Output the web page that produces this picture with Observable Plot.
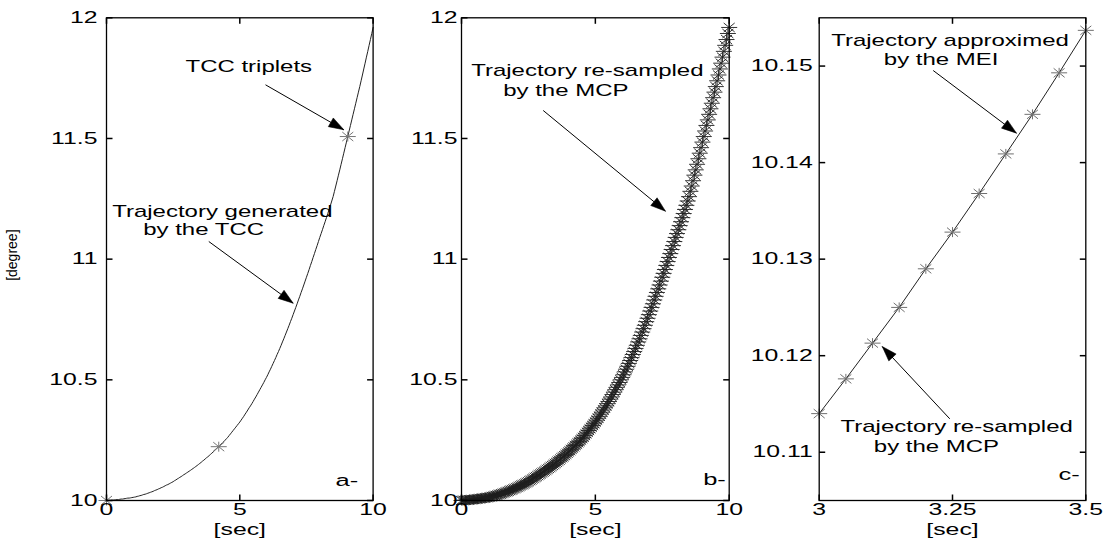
<!DOCTYPE html>
<html><head><meta charset="utf-8">
<script src="https://cdn.jsdelivr.net/npm/d3@7"></script>
<script src="https://cdn.jsdelivr.net/npm/@observablehq/plot@0.6"></script>
<style>
body{margin:0;background:#fff;}
#wrap{position:relative;width:1107px;height:548px;overflow:hidden;background:#fff;}
#wrap svg{position:absolute;top:0;overflow:visible;}
</style></head><body><div id="wrap"></div>
<script>
// ---- data ----
// trajectory (TCC-generated) and its MCP re-samples, every 0.05 s from 0 to 10 s  [degree]
const sampleStep = 0.05;
const trajValues = [
10.000,10.000,10.001,10.001,10.002,10.002,10.003,10.003,10.004,10.004,
10.005,10.006,10.006,10.007,10.008,10.009,10.010,10.010,10.011,10.012,
10.013,10.014,10.015,10.017,10.018,10.020,10.021,10.023,10.025,10.026,
10.028,10.030,10.032,10.034,10.036,10.038,10.041,10.043,10.045,10.048,
10.050,10.053,10.055,10.058,10.061,10.064,10.066,10.069,10.072,10.075,
10.078,10.082,10.085,10.089,10.092,10.096,10.099,10.103,10.107,10.110,
10.114,10.1176,10.1213,10.1250,10.1290,10.1328,10.1368,10.1409,10.1450,10.1493,
10.1537,10.158,10.163,10.167,10.172,10.177,10.181,10.186,10.191,10.196,
10.201,10.206,10.212,10.217,10.222,10.228,10.233,10.239,10.244,10.250,
10.256,10.262,10.269,10.276,10.283,10.290,10.297,10.304,10.311,10.318,
10.325,10.333,10.341,10.349,10.358,10.366,10.375,10.384,10.392,10.401,
10.410,10.420,10.429,10.439,10.449,10.459,10.469,10.479,10.489,10.500,
10.510,10.521,10.533,10.544,10.556,10.568,10.580,10.592,10.605,10.617,
10.630,10.643,10.657,10.670,10.684,10.698,10.712,10.726,10.741,10.755,
10.770,10.785,10.800,10.815,10.831,10.846,10.862,10.877,10.893,10.909,
10.925,10.941,10.957,10.974,10.990,11.007,11.023,11.040,11.056,11.073,
11.090,11.106,11.122,11.139,11.155,11.172,11.189,11.206,11.223,11.241,
11.259,11.281,11.303,11.325,11.348,11.370,11.393,11.416,11.439,11.462,
11.485,11.508,11.531,11.554,11.577,11.600,11.623,11.646,11.669,11.692,
11.715,11.739,11.763,11.788,11.812,11.837,11.861,11.886,11.910,11.935,
11.960];
const trajTimes = trajValues.map((_, i) => +(i * sampleStep).toFixed(2));

// TCC triplets
const tccTimes = [0, 4.21, 9.05];
const tccValues = [10.000, 10.223, 11.508];

// MEI approximation (zoom 3 .. 3.5 s)
const meiTimes = [3.00, 3.05, 3.10, 3.15, 3.20, 3.25, 3.30, 3.35, 3.40, 3.45, 3.50];
const meiValues = [10.1140, 10.1176, 10.1213, 10.1250, 10.1290, 10.1328, 10.1368, 10.1409, 10.1450, 10.1493, 10.1537];

// ticks
const xTicksAB = [0, 5, 10];
const xTickLabelsAB = ["0", "5", "10"];
const yTicksAB = [10, 10.5, 11, 11.5, 12];
const yTickLabelsAB = ["10", "10.5", "11", "11.5", "12"];
const xTicksC = [3, 3.25, 3.5];
const xTickLabelsC = ["3", "3.25", "3.5"];
const yTicksC = [10.11, 10.12, 10.13, 10.14, 10.15];
const yTickLabelsC = ["10.11", "10.12", "10.13", "10.14", "10.15"];

// ---- drawing ----
const FONT = "'Liberation Sans', Arial, Helvetica, sans-serif";
const H = 548, MT = 17.3, MB = 48;
const wrap = document.getElementById("wrap");
const STRETCH = {ticklabel: 1.55, annot: 1.5, panelletter: 1.5};

const star = {draw(c) {
  c.moveTo(-8, 0); c.lineTo(8, 0);
  c.moveTo(0, -5); c.lineTo(0, 5);
  c.moveTo(-5.5, -4.5); c.lineTo(5.5, 4.5);
  c.moveTo(-5.5, 4.5); c.lineTo(5.5, -4.5);
}};
const tickUp = {draw(c) { c.moveTo(0, 0); c.lineTo(0, -6); }};
const tickDown = {draw(c) { c.moveTo(0, 0); c.lineTo(0, 6); }};
const tickRight = {draw(c) { c.moveTo(0, 0); c.lineTo(6, 0); }};
const tickLeft = {draw(c) { c.moveTo(0, 0); c.lineTo(-6, 0); }};
const arrowHead = {draw(c) { c.moveTo(0, 0); c.lineTo(-5, 15); c.lineTo(5, 15); c.closePath(); }};

function frameMarks(xTicks, xLabels, yTicks, yLabels, yPad) {
  return [
    Plot.dot(xTicks, {x: d => d, frameAnchor: "bottom", symbol: tickUp, fill: "none", stroke: "black"}),
    Plot.dot(xTicks, {x: d => d, frameAnchor: "top", symbol: tickDown, fill: "none", stroke: "black"}),
    Plot.dot(yTicks, {y: d => d, frameAnchor: "left", symbol: tickRight, fill: "none", stroke: "black"}),
    Plot.dot(yTicks, {y: d => d, frameAnchor: "right", symbol: tickLeft, fill: "none", stroke: "black"}),
    Plot.frame({stroke: "black", strokeWidth: 1.3}),
    Plot.text(xTicks, {x: d => d, text: (d, i) => xLabels[i], frameAnchor: "bottom", lineAnchor: "top", dy: 3, fontSize: 16, fill: "black", ariaDescription: "ticklabel"}),
    Plot.text(yTicks, {y: d => d, text: (d, i) => yLabels[i], frameAnchor: "left", textAnchor: "end", dx: yPad, fontSize: 16, fill: "black", ariaDescription: "ticklabel"}),
    Plot.text(["[sec]"], {text: d => d, frameAnchor: "bottom", lineAnchor: "top", dy: 23, fontSize: 16, fill: "black", ariaDescription: "ticklabel"})
  ];
}

function arrowMarks(cfg, arrows) {
  const pw = cfg.width - cfg.ml - cfg.mr, ph = H - MT - MB;
  const sx = x => cfg.ml + (x - cfg.xd[0]) / (cfg.xd[1] - cfg.xd[0]) * pw;
  const sy = y => MT + (cfg.yd[1] - y) / (cfg.yd[1] - cfg.yd[0]) * ph;
  return arrows.flatMap(a => {
    const dx = sx(a.x2) - sx(a.x1), dy = sy(a.y2) - sy(a.y1);
    const ang = Math.atan2(dx, -dy) * 180 / Math.PI;
    return [
      Plot.link([a], {x1: "x1", y1: "y1", x2: "x2", y2: "y2", stroke: "black", strokeWidth: 1}),
      Plot.dot([a], {x: "x2", y: "y2", symbol: arrowHead, fill: "black", stroke: "black", strokeWidth: 0.5, rotate: ang})
    ];
  });
}

function annot(lines) {
  return lines.map(l => Plot.text([l.t], {text: d => d, x: () => l.x, y: () => l.y, textAnchor: "start", lineAnchor: "bottom", fontSize: 16, fill: "black", ariaDescription: "annot"}));
}

function letter(s, dx, dy) {
  return Plot.text([s], {text: d => d, frameAnchor: "bottom-right", textAnchor: "start", lineAnchor: "bottom", dx, dy, fontSize: 17, fill: "black", ariaDescription: "panelletter"});
}

// widen glyphs horizontally (the reference figure is stretched), scaling about each text's anchor
function stretchTexts(svg) {
  for (const [key, s] of Object.entries(STRETCH)) {
    svg.querySelectorAll(`g[aria-description="${key}"] text`).forEach(t => {
      const x = parseFloat(t.getAttribute("x")) || 0;
      const T = t.getAttribute("transform") || "";
      t.setAttribute("transform", `${T} translate(${x},0) scale(${s},1) translate(${-x},0)`);
    });
  }
}

function panel(cfg, marks) {
  const svg = Plot.plot({
    width: cfg.width, height: H,
    marginLeft: cfg.ml, marginRight: cfg.mr, marginTop: MT, marginBottom: MB,
    x: {domain: cfg.xd, axis: null},
    y: {domain: cfg.yd, axis: null},
    style: {background: "transparent", fontFamily: FONT, overflow: "visible"},
    marks
  });
  stretchTexts(svg);
  svg.style.left = cfg.left + "px";
  wrap.appendChild(svg);
}

// Panel a
const cfgA = {left: 0, width: 400, ml: 106, mr: 27.4, xd: [0, 10], yd: [10, 12]};
panel(cfgA, [
  Plot.line(trajValues, {x: (d, i) => trajTimes[i], y: d => d, stroke: "#222", strokeWidth: 1}),
  Plot.dot(tccValues, {x: (d, i) => tccTimes[i], y: d => d, symbol: star, fill: "none", stroke: "#777", strokeWidth: 1}),
  ...frameMarks(xTicksAB, xTickLabelsAB, yTicksAB, yTickLabelsAB, -9),
  ...annot([
    {t: "TCC triplets", x: 2.963, y: 11.7775},
    {t: "Trajectory generated", x: 0.214, y: 11.1767},
    {t: "by the TCC", x: 1.377, y: 11.098}
  ]),
  ...arrowMarks(cfgA, [
    {x1: 5.964, y1: 11.7224, x2: 8.901, y2: 11.536},
    {x1: 3.837, y1: 11.0731, x2: 7.003, y2: 10.8175}
  ]),
  letter("a-", -37.6, -15),
  Plot.text(["[degree]"], {text: d => d, frameAnchor: "left", textAnchor: "middle", lineAnchor: "middle", dx: -94, dy: -4, rotate: -90, fontSize: 14, fill: "black"})
]);

// Panel b
const cfgB = {left: 400, width: 345, ml: 61, mr: 16.3, xd: [0, 10], yd: [10, 12]};
panel(cfgB, [
  Plot.dot(trajValues, {x: (d, i) => trajTimes[i], y: d => d, symbol: star, fill: "none", stroke: "#1e1e1e", strokeWidth: 0.9}),
  ...frameMarks(xTicksAB, xTickLabelsAB, yTicksAB, yTickLabelsAB, -4),
  ...annot([
    {t: "Trajectory re-sampled", x: 0.362, y: 11.7568},
    {t: "by the MCP", x: 1.558, y: 11.674}
  ]),
  ...arrowMarks(cfgB, [
    {x1: 3.052, y1: 11.616, x2: 7.620, y2: 11.1987}
  ]),
  letter("b-", -26, -16)
]);

// Panel c
const cfgC = {left: 745, width: 362, ml: 73.7, mr: 21.7, xd: [3, 3.5], yd: [10.105, 10.155]};
panel(cfgC, [
  Plot.line(meiValues, {x: (d, i) => meiTimes[i], y: d => d, stroke: "#222", strokeWidth: 1}),
  Plot.dot(meiValues, {x: (d, i) => meiTimes[i], y: d => d, symbol: star, fill: "none", stroke: "#707070", strokeWidth: 1}),
  ...frameMarks(xTicksC, xTickLabelsC, yTicksC, yTickLabelsC, -6.5),
  ...annot([
    {t: "Trajectory approximed", x: 3.0225, y: 10.15213},
    {t: "by the MEI", x: 3.1212, y: 10.15006},
    {t: "Trajectory re-sampled", x: 3.040, y: 10.11207},
    {t: "by the MCP", x: 3.1024, y: 10.110003}
  ]),
  ...arrowMarks(cfgC, [
    {x1: 3.2138, y1: 10.14954, x2: 3.370, y2: 10.14305},
    {x1: 3.2449, y1: 10.11346, x2: 3.1182, y2: 10.12095}
  ]),
  letter("c-", -27.3, -20.7)
]);
</script>
</body></html>
